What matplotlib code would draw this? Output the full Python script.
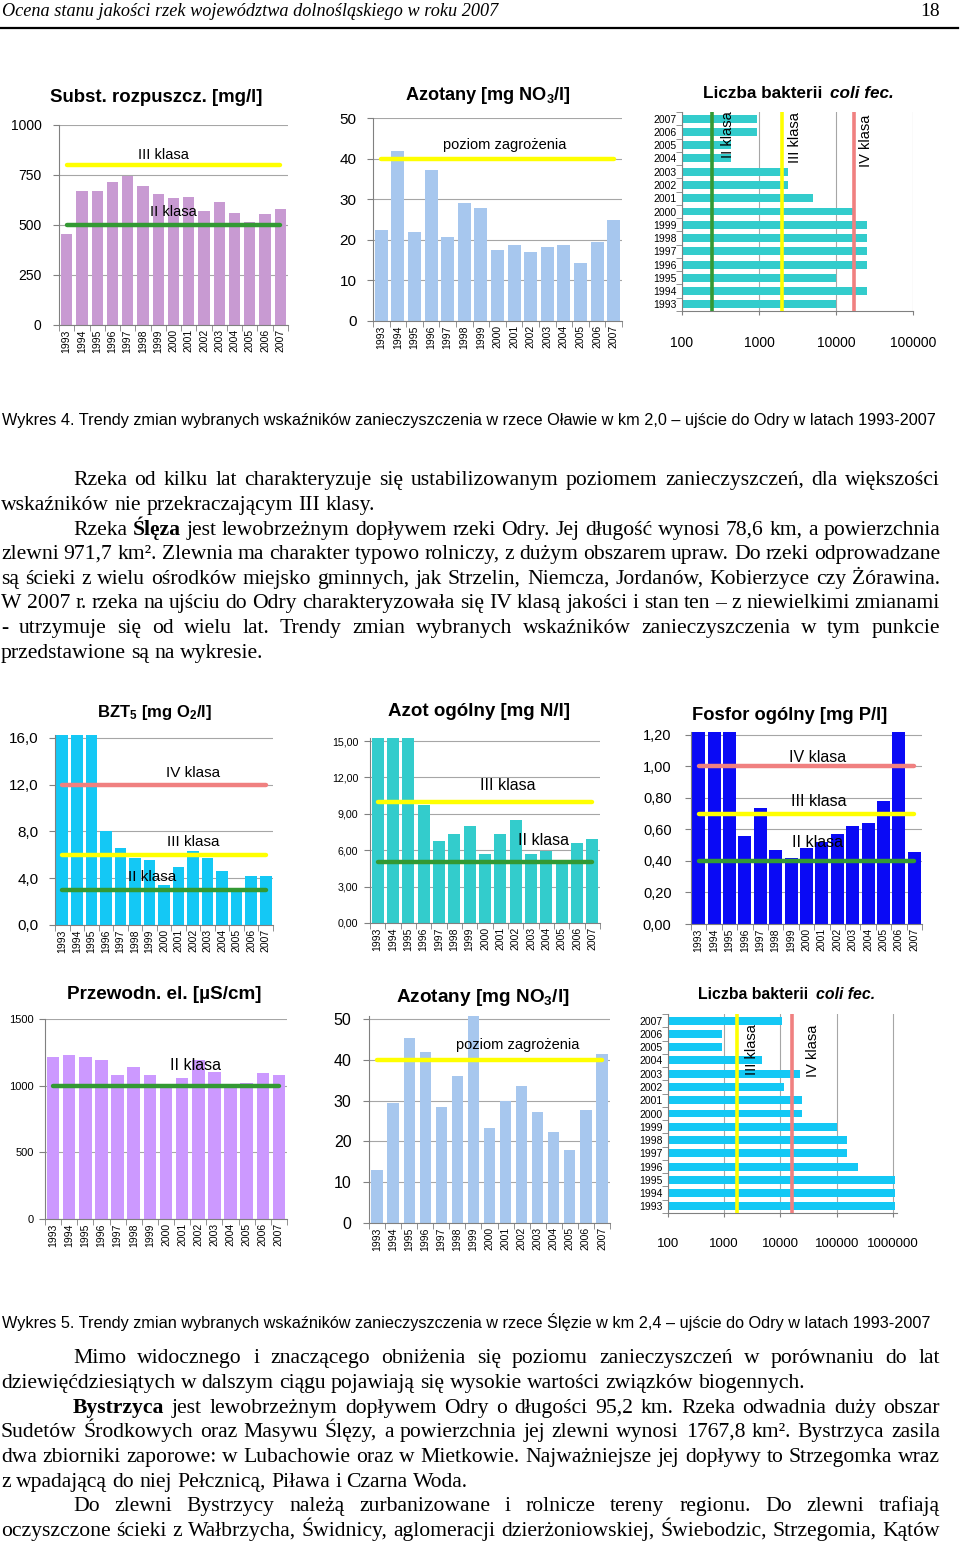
import matplotlib
matplotlib.use('Agg')
import matplotlib.pyplot as plt
from matplotlib.lines import Line2D
from matplotlib.ticker import NullLocator
import numpy as np

plt.rcParams['font.family'] = ['Liberation Sans', 'DejaVu Sans']
plt.rcParams['mathtext.fontset'] = 'custom'
plt.rcParams['mathtext.rm'] = 'Liberation Sans'
plt.rcParams['mathtext.bf'] = 'Liberation Sans:bold'
plt.rcParams['mathtext.it'] = 'Liberation Sans:italic'

# ---- data read from the page ----
year_labels = [str(y) for y in range(1993, 2008)]

# Olawa (Wykres 4)
olawa_subst = [455, 670, 670, 717, 747, 695, 655, 633, 638, 570, 617, 562, 517, 555, 578]
olawa_subst_cls = [800, 500]            # III, II
olawa_no3 = [22.4, 41.8, 22.0, 37.3, 20.8, 29.0, 27.8, 17.5, 18.8, 17.1, 18.3, 18.8, 14.2, 19.4, 24.9]
olawa_no3_alarm = 40
olawa_coli = [10000, 25500, 10000, 25500, 25500, 25500, 25500, 16400, 5100, 2400, 2400, 430, 430, 950, 950]
olawa_coli_cls = [245, 2000, 17000]     # II, III, IV

# Sleza (Wykres 5)
sleza_bzt5 = [16.3, 16.3, 16.3, 8.0, 6.6, 5.7, 5.6, 3.4, 5.0, 6.35, 5.75, 4.6, 3.2, 4.2, 4.2]
sleza_bzt5_cls = [12.0, 6.0, 3.0]       # IV, III, II
sleza_ntot = [15.3, 15.3, 15.3, 9.7, 6.8, 7.35, 8.0, 5.7, 7.35, 8.5, 5.7, 5.9, 5.2, 6.6, 6.9]
sleza_ntot_cls = [10.0, 5.0]            # III, II
sleza_ptot = [1.23, 1.23, 1.23, 0.56, 0.735, 0.47, 0.42, 0.48, 0.52, 0.57, 0.62, 0.64, 0.78, 1.23, 0.46]
sleza_ptot_cls = [1.0, 0.7, 0.4]        # IV, III, II
sleza_cond = [1215, 1230, 1215, 1192, 1080, 1142, 1080, 1000, 1057, 1195, 1105, 995, 1017, 1092, 1080]
sleza_cond_cls = [1000]                 # II
sleza_no3 = [12.9, 29.5, 45.4, 41.8, 28.4, 36.1, 50.7, 23.2, 29.9, 33.6, 27.2, 22.3, 17.8, 27.6, 41.4]
sleza_no3_alarm = 40
sleza_coli = [1090000, 1090000, 1090000, 238000, 150000, 150000, 100000, 24600, 24600, 11600,
              22000, 4600, 900, 900, 10500]
sleza_coli_cls = [1700, 16000]          # III, IV

coli_ticks_1 = [100, 1000, 10000, 100000]
coli_ticks_2 = [100, 1000, 10000, 100000, 1000000]

GREEN = '#339933'
YELLOW = '#FFFF00'
RED = '#F08080'
GRID = '#A6A6A6'
SPINE = '#808080'

W, H = 960, 1544
fig = plt.figure(figsize=(W / 100, H / 100), dpi=100)
fig.patch.set_facecolor('white')
renderer = fig.canvas.get_renderer()


def px_axes(l, t, r, b):
    return fig.add_axes([l / W, 1 - b / H, (r - l) / W, (b - t) / H])


def ftext(x, y, s, **kw):
    return fig.text(x / W, 1 - y / H, s, **kw)


def fit(t, width):
    bb = t.get_window_extent(renderer)
    t.set_fontsize(t.get_fontsize() * width / bb.width)
    return t


def comma(fmt):
    return lambda v: fmt.format(v).replace('.', ',')


def bar_panel(box, vals, color, ymax, ticks, fmt, ysize, ypad, width=0.78):
    ax = px_axes(*box)
    x = np.arange(len(vals))
    ax.bar(x, vals, width=width, color=color, zorder=2)
    ax.set_xlim(-0.5, len(vals) - 0.5)
    ax.set_ylim(0, ymax)
    ax.set_yticks(ticks)
    ax.set_yticklabels([fmt(t) for t in ticks], fontsize=ysize)
    ax.tick_params(axis='y', length=4, pad=ypad, color=SPINE)
    ax.set_xticks(x)
    ax.set_xticklabels(year_labels, rotation=90, fontsize=7.5)
    ax.tick_params(axis='x', which='major', length=0, pad=3)
    ax.set_xticks(np.arange(-0.5, len(vals), 1), minor=True)
    ax.tick_params(axis='x', which='minor', length=4, color=SPINE)
    ax.yaxis.grid(True, color=GRID, lw=0.8)
    ax.set_axisbelow(True)
    for s in ('top', 'right'):
        ax.spines[s].set_visible(False)
    for s in ('left', 'bottom'):
        ax.spines[s].set_color(SPINE)
    return ax


def class_line(ax, v, color, n=15):
    ax.plot([0, n - 1], [v, v], color=color, lw=3.2, solid_capstyle='round', zorder=3)


def coli_panel(box, vals, color, xmax, xticks, xsize):
    ax = px_axes(*box)
    ax.set_xscale('log')
    y = np.arange(len(vals))
    ax.barh(y, vals, height=0.6, color=color, zorder=2)
    ax.set_xlim(100, xmax)
    ax.set_ylim(-0.5, len(vals) - 0.5)
    ax.set_xticks(xticks)
    ax.set_xticklabels([str(t) for t in xticks], fontsize=xsize)
    ax.xaxis.set_minor_locator(NullLocator())
    ax.tick_params(axis='x', length=3, pad=15, color=SPINE)
    ax.set_yticks(y)
    ax.set_yticklabels(year_labels, fontsize=7.5)
    ax.tick_params(axis='y', which='major', length=0, pad=4)
    ax.set_yticks(np.arange(-0.5, len(vals), 1), minor=True)
    ax.tick_params(axis='y', which='minor', length=4, color=SPINE)
    ax.xaxis.grid(True, color=GRID, lw=0.8)
    ax.set_axisbelow(True)
    for s in ('top', 'right'):
        ax.spines[s].set_visible(False)
    for s in ('left', 'bottom'):
        ax.spines[s].set_color(SPINE)
    return ax


def label(ax, x, y, s, size, **kw):
    return ax.text(x / W, 1 - y / H, s, transform=fig.transFigure, fontsize=size,
                   ha='center', va='center', zorder=5, **kw)


def vlabel(ax, x, ybottom, s, size=10.5):
    return ax.text(x / W, 1 - ybottom / H, s, transform=fig.transFigure, fontsize=size,
                   rotation=90, ha='center', va='bottom', clip_on=True, zorder=5)


def title(x0, x1, y, s):
    t = ftext(x0, y, s, fontsize=10, weight='bold', va='center', ha='left')
    return fit(t, x1 - x0)


def coli_title(x0, x1, y):
    a = ftext(x0, y, 'Liczba bakterii ', fontsize=10, weight='bold', va='center')
    b = ftext(x0, y, 'coli fec.', fontsize=10, weight='bold', style='italic', va='center')
    wa = a.get_window_extent(renderer).width + 3
    wb = b.get_window_extent(renderer).width
    k = (x1 - x0) / (wa + wb)
    a.set_fontsize(10 * k)
    b.set_fontsize(10 * k)
    b.set_x((x0 + wa * k) / W)


# ---- header ----
fit(ftext(2, 11, 'Ocena stanu jakości rzek województwa dolnośląskiego w roku 2007',
          family='Liberation Serif', style='italic', fontsize=10, va='center'), 496)
ftext(940, 11, '18', family='Liberation Serif', fontsize=14, va='center', ha='right')
fig.add_artist(Line2D([0, 958 / W], [1 - 28 / H, 1 - 28 / H], transform=fig.transFigure,
                      color='black', lw=1.6))

# ---- Wykres 4 (Olawa) ----
ax = bar_panel((59, 125, 288, 325), olawa_subst, '#C89AD2', 1000, [0, 250, 500, 750, 1000],
               lambda v: str(int(v)), 10, 8.6, width=0.74)
class_line(ax, olawa_subst_cls[0], YELLOW)
class_line(ax, olawa_subst_cls[1], GREEN)
label(ax, 163, 155, 'III klasa', 10.5)
label(ax, 173, 212, 'II klasa', 10.5)
title(50, 263, 97, 'Subst. rozpuszcz. [mg/l]')

ax = bar_panel((373, 118, 622, 321), olawa_no3, '#A7C7EE', 50, [0, 10, 20, 30, 40, 50],
               lambda v: str(int(v)), 11, 7.9, width=0.78)
class_line(ax, olawa_no3_alarm, YELLOW)
label(ax, 505, 145, 'poziom zagrożenia', 10.5)
title(405, 571, 95, r'Azotany [mg NO$_\mathbf{3}$/l]')

ax = coli_panel((682, 112, 913, 311), olawa_coli, '#33CCCC', 100000, coli_ticks_1, 10)
for v, c in zip(olawa_coli_cls, [GREEN, YELLOW, RED]):
    ax.axvline(v, color=c, lw=2.6, zorder=3)
vlabel(ax, 728, 158, 'II klasa')
vlabel(ax, 795, 163, 'III klasa')
vlabel(ax, 866, 167, 'IV klasa')
coli_title(703, 894, 93)

fit(ftext(2, 420, 'Wykres 4. Trendy zmian wybranych wskaźników zanieczyszczenia w rzece Oławie '
          'w km 2,0 – ujście do Odry w latach 1993-2007', fontsize=10, va='center'), 933)

# ---- Wykres 5 (Sleza) ----
ax = bar_panel((55, 735, 273, 925), sleza_bzt5, '#14C8F5', 16.25, [0, 4, 8, 12, 16],
               comma('{:.1f}'), 11, 7.9, width=0.8)
for v, c in zip(sleza_bzt5_cls, [RED, YELLOW, GREEN]):
    class_line(ax, v, c)
label(ax, 193, 773, 'IV klasa', 11)
label(ax, 193, 842, 'III klasa', 11)
label(ax, 152, 877, 'II klasa', 11)
title(97, 212, 712, r'BZT$_\mathbf{5}$ [mg O$_\mathbf{2}$/l]')

ax = bar_panel((370, 738, 600, 923), sleza_ntot, '#33CCCC', 15.25, [0, 3, 6, 9, 12, 15],
               comma('{:.2f}'), 7.7, 4.3, width=0.8)
for v, c in zip(sleza_ntot_cls, [YELLOW, GREEN]):
    class_line(ax, v, c)
label(ax, 508, 785, 'III klasa', 11.5)
label(ax, 543, 840, 'II klasa', 11.5)
title(388, 570, 712, 'Azot ogólny [mg N/l]')

ax = bar_panel((691, 732, 922, 924), sleza_ptot, '#0A0AF5', 1.219, [0, 0.2, 0.4, 0.6, 0.8, 1.0, 1.2],
               comma('{:.2f}'), 10.5, 10, width=0.84)
for v, c in zip(sleza_ptot_cls, [RED, YELLOW, GREEN]):
    class_line(ax, v, c)
label(ax, 818, 758, 'IV klasa', 11.5)
label(ax, 819, 802, 'III klasa', 11.5)
label(ax, 818, 842, 'II klasa', 11.5)
title(692, 887, 716, 'Fosfor ogólny [mg P/l]')

ax = bar_panel((45, 1019, 287, 1219), sleza_cond, '#CC99FF', 1500, [0, 500, 1000, 1500],
               lambda v: str(int(v)), 8, 4.3, width=0.78)
class_line(ax, sleza_cond_cls[0], GREEN)
label(ax, 195, 1065, 'II klasa', 11.5)
title(67, 262, 995, 'Przewodn. el. [µS/cm]')

ax = bar_panel((369, 1016, 610, 1223), sleza_no3, '#A7C7EE', 50.7, [0, 10, 20, 30, 40, 50],
               lambda v: str(int(v)), 11.5, 8.6, width=0.7)
class_line(ax, sleza_no3_alarm, YELLOW)
label(ax, 518, 1045, 'poziom zagrożenia', 10.5)
title(396, 570, 998, r'Azotany [mg NO$_\mathbf{3}$/l]')

ax = coli_panel((668, 1014, 897, 1213), sleza_coli, '#14C8F5', 1.18e6, coli_ticks_2, 9.5)
for v, c in zip(sleza_coli_cls, [YELLOW, RED]):
    ax.axvline(v, color=c, lw=2.6, zorder=3)
vlabel(ax, 752, 1075, 'III klasa')
vlabel(ax, 813, 1077, 'IV klasa')
coli_title(698, 875, 995)

fit(ftext(2, 1322, 'Wykres 5. Trendy zmian wybranych wskaźników zanieczyszczenia w rzece Ślęzie '
          'w km 2,4 – ujście do Odry w latach 1993-2007', fontsize=10, va='center'), 928)

# ---- body text (justified, Times-like) ----
SERIF = 'Liberation Serif'
probe = fig.text(0, 0, 'wskaźników nie przekraczającym III klasy.', fontsize=10, family=SERIF)
body_size = 10 * 374 / probe.get_window_extent(renderer).width
probe.remove()


def body_line(y, s, indent, justify):
    x0, x1 = (73 if indent else 1), 940
    arts, widths = [], []
    for w in s.split(' '):
        bold = w.startswith('*')
        t = ftext(0, y, w.strip('*'), fontsize=body_size, family=SERIF,
                  weight='bold' if bold else 'normal', va='baseline')
        arts.append(t)
        widths.append(t.get_window_extent(renderer).width)
    if justify and len(arts) > 1:
        gap = (x1 - x0 - sum(widths)) / (len(arts) - 1)
    else:
        gap = body_size * 100 / 72 * 0.25
    x = x0
    for t, wd in zip(arts, widths):
        t.set_x(x / W)
        x += wd + gap


block1 = [
    (True, True, 'Rzeka od kilku lat charakteryzuje się ustabilizowanym poziomem zanieczyszczeń, dla większości'),
    (False, False, 'wskaźników nie przekraczającym III klasy.'),
    (True, True, 'Rzeka *Ślęza* jest lewobrzeżnym dopływem rzeki Odry. Jej długość wynosi 78,6 km, a powierzchnia'),
    (False, True, 'zlewni 971,7 km². Zlewnia ma charakter typowo rolniczy, z dużym obszarem upraw. Do rzeki odprowadzane'),
    (False, True, 'są ścieki z wielu ośrodków miejsko gminnych, jak Strzelin, Niemcza, Jordanów, Kobierzyce czy Żórawina.'),
    (False, True, 'W 2007 r. rzeka na ujściu do Odry charakteryzowała się IV klasą jakości i stan ten – z niewielkimi zmianami'),
    (False, True, '- utrzymuje się od wielu lat. Trendy zmian wybranych wskaźników zanieczyszczenia w tym punkcie'),
    (False, False, 'przedstawione są na wykresie.'),
]
block2 = [
    (True, True, 'Mimo widocznego i znaczącego obniżenia się poziomu zanieczyszczeń w porównaniu do lat'),
    (False, False, 'dziewięćdziesiątych w dalszym ciągu pojawiają się wysokie wartości związków biogennych.'),
    (True, True, '*Bystrzyca* jest lewobrzeżnym dopływem Odry o długości 95,2 km. Rzeka odwadnia duży obszar'),
    (False, True, 'Sudetów Środkowych oraz Masywu Ślęzy, a powierzchnia jej zlewni wynosi 1767,8 km². Bystrzyca zasila'),
    (False, True, 'dwa zbiorniki zaporowe: w Lubachowie oraz w Mietkowie. Najważniejsze jej dopływy to Strzegomka wraz'),
    (False, False, 'z wpadającą do niej Pełcznicą, Piława i Czarna Woda.'),
    (True, True, 'Do zlewni Bystrzycy należą zurbanizowane i rolnicze tereny regionu. Do zlewni trafiają'),
    (False, True, 'oczyszczone ścieki z Wałbrzycha, Świdnicy, aglomeracji dzierżoniowskiej, Świebodzic, Strzegomia, Kątów'),
]
rows1 = [479, 504, 529, 553, 578, 602, 627, 652]
rows2 = [1357, 1382, 1407, 1431, 1456, 1481, 1505, 1530]
for y, (ind, just, s) in zip(rows1, block1):
    body_line(y + 6, s, ind, just)
for y, (ind, just, s) in zip(rows2, block2):
    body_line(y + 6, s, ind, just)

fig.savefig('out.png', dpi=100, facecolor='white')
